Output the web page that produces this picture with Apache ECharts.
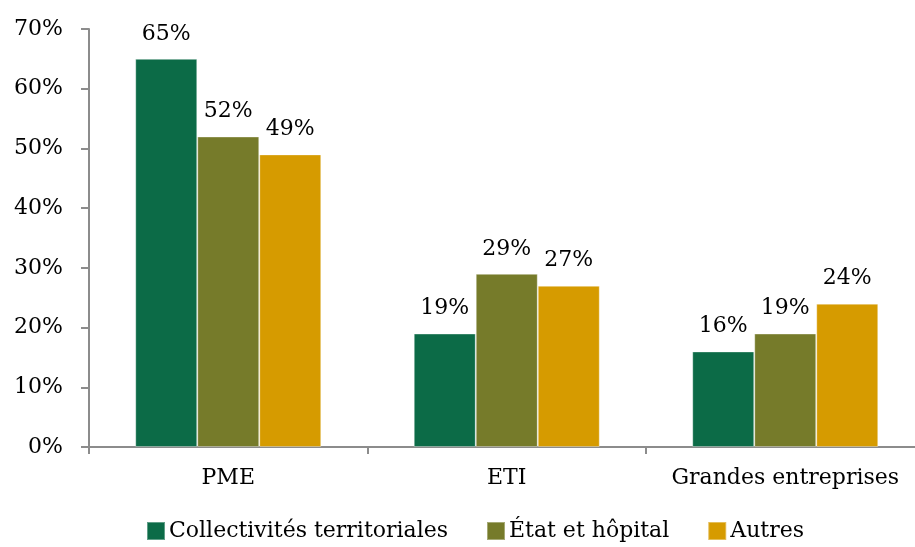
<!DOCTYPE html>
<html>
<head>
<meta charset="utf-8">
<script src="https://cdn.jsdelivr.net/npm/echarts@6/dist/echarts.min.js"></script>
<style>
  html, body { margin: 0; padding: 0; background: #fff; }
  #main { width: 915px; height: 547px; }
</style>
</head>
<body>
<div id="main"></div>
<script>
var categories = ['PME', 'ETI', 'Grandes entreprises'];
var collectivites = [65, 19, 16];
var etatHopital = [52, 29, 19];
var autres = [49, 27, 24];
var yTicks = [0, 10, 20, 30, 40, 50, 60, 70];

var myChart = echarts.init(document.getElementById('main'));
var font = 'DejaVu Serif';

function barSeries(name, data, color) {
    return {
        name: name,
        type: 'bar',
        data: data,
        barWidth: 62,
        barGap: 0,
        itemStyle: { color: color, borderColor: 'rgba(255,255,255,0.35)', borderWidth: 1 },
        label: {
            show: true,
            position: 'top',
            distance: 14,
            formatter: '{c}%',
            color: '#000',
            fontFamily: font,
            fontSize: 22
        }
    };
}

var option = {
    animation: false,
    textStyle: { fontFamily: font },
    grid: { left: 89, top: 29, bottom: 100, width: 835.5, outerBoundsMode: 'none', containLabel: false },
    legend: {
        bottom: 0,
        left: 141,
        itemWidth: 18,
        itemHeight: 18,
        itemGap: 38,
        icon: 'rect',
        textStyle: { fontFamily: font, fontSize: 22, color: '#000', padding: [0, 0, 0, -1] },
        data: ['Collectivités territoriales', 'État et hôpital', 'Autres']
    },
    xAxis: {
        type: 'category',
        data: categories,
        axisLine: { lineStyle: { color: '#8c8c8c', width: 2 } },
        axisTick: { show: true, length: 7, lineStyle: { color: '#8c8c8c', width: 2 } },
        axisLabel: { interval: 0, color: '#000', fontFamily: font, fontSize: 22, margin: 20 }
    },
    yAxis: {
        type: 'value',
        min: yTicks[0],
        max: yTicks[yTicks.length - 1],
        interval: 10,
        axisLine: { show: true, lineStyle: { color: '#8c8c8c', width: 2 } },
        axisTick: { show: true, length: 8, lineStyle: { color: '#8c8c8c', width: 2 } },
        splitLine: { show: false },
        axisLabel: { color: '#000', fontFamily: font, fontSize: 22, margin: 26, formatter: '{value}%' }
    },
    series: [
        barSeries('Collectivités territoriales', collectivites, '#0c6b47'),
        barSeries('État et hôpital', etatHopital, '#767b2a'),
        barSeries('Autres', autres, '#d69b00')
    ]
};

myChart.setOption(option);
onresize = myChart.resize;
</script>
</body>
</html>
